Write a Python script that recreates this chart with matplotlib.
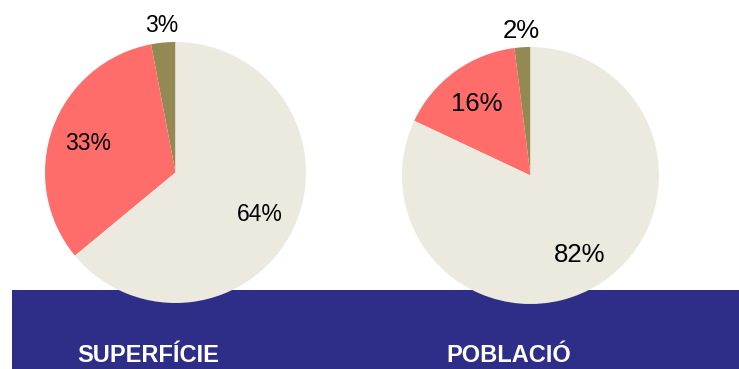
import numpy as np
import matplotlib.pyplot as plt
from matplotlib.patches import Rectangle

# share of each category (percent), order: other, secondary, main
SUPERFICIE = [3, 33, 64]
POBLACIO = [2, 16, 82]
COLORS = ["#938953", "#FF6D6B", "#ECEADF"]
TITLES = ["SUPERFÍCIE", "POBLACIÓ"]

W, H = 739, 369
BAND = "#2E2D88"

plt.rcParams["font.family"] = ["Liberation Sans", "DejaVu Sans"]

fig = plt.figure(figsize=(W / 100, H / 100), dpi=100)
ax = fig.add_axes([0, 0, 1, 1])

# blue strip along the bottom, behind the pies
ax.add_patch(Rectangle((12, 0), W - 12, 79, facecolor=BAND, edgecolor="none", zorder=0))


def draw_pie(values, center, radius, fsize):
    wedges, _ = ax.pie(values, colors=COLORS, startangle=90, counterclock=True,
                       center=center, radius=radius, frame=True,
                       wedgeprops=dict(linewidth=0, zorder=2))
    for w, v in zip(wedges, values):
        mid = np.deg2rad((w.theta1 + w.theta2) / 2)
        d = 1.15 if v < 5 else 0.71
        x = center[0] + d * radius * np.cos(mid)
        y = center[1] + d * radius * np.sin(mid)
        ax.text(x, y, f"{v}%", ha="center", va="center_baseline", fontsize=fsize,
                color="black", zorder=3)


draw_pie(SUPERFICIE, (175.5, H - 172.5), 130.5, 16.5)
draw_pie(POBLACIO, (530.5, H - 175.5), 128.5, 18.5)

ax.text(77, H - 356, TITLES[0], ha="left", va="center", fontsize=17,
        fontweight="bold", color="white", zorder=3)
ax.text(446, H - 356, TITLES[1], ha="left", va="center", fontsize=17,
        fontweight="bold", color="white", zorder=3)

ax.set_xlim(0, W)
ax.set_ylim(0, H)
ax.set_aspect("equal")
ax.axis("off")

fig.savefig("out.png", dpi=100)
